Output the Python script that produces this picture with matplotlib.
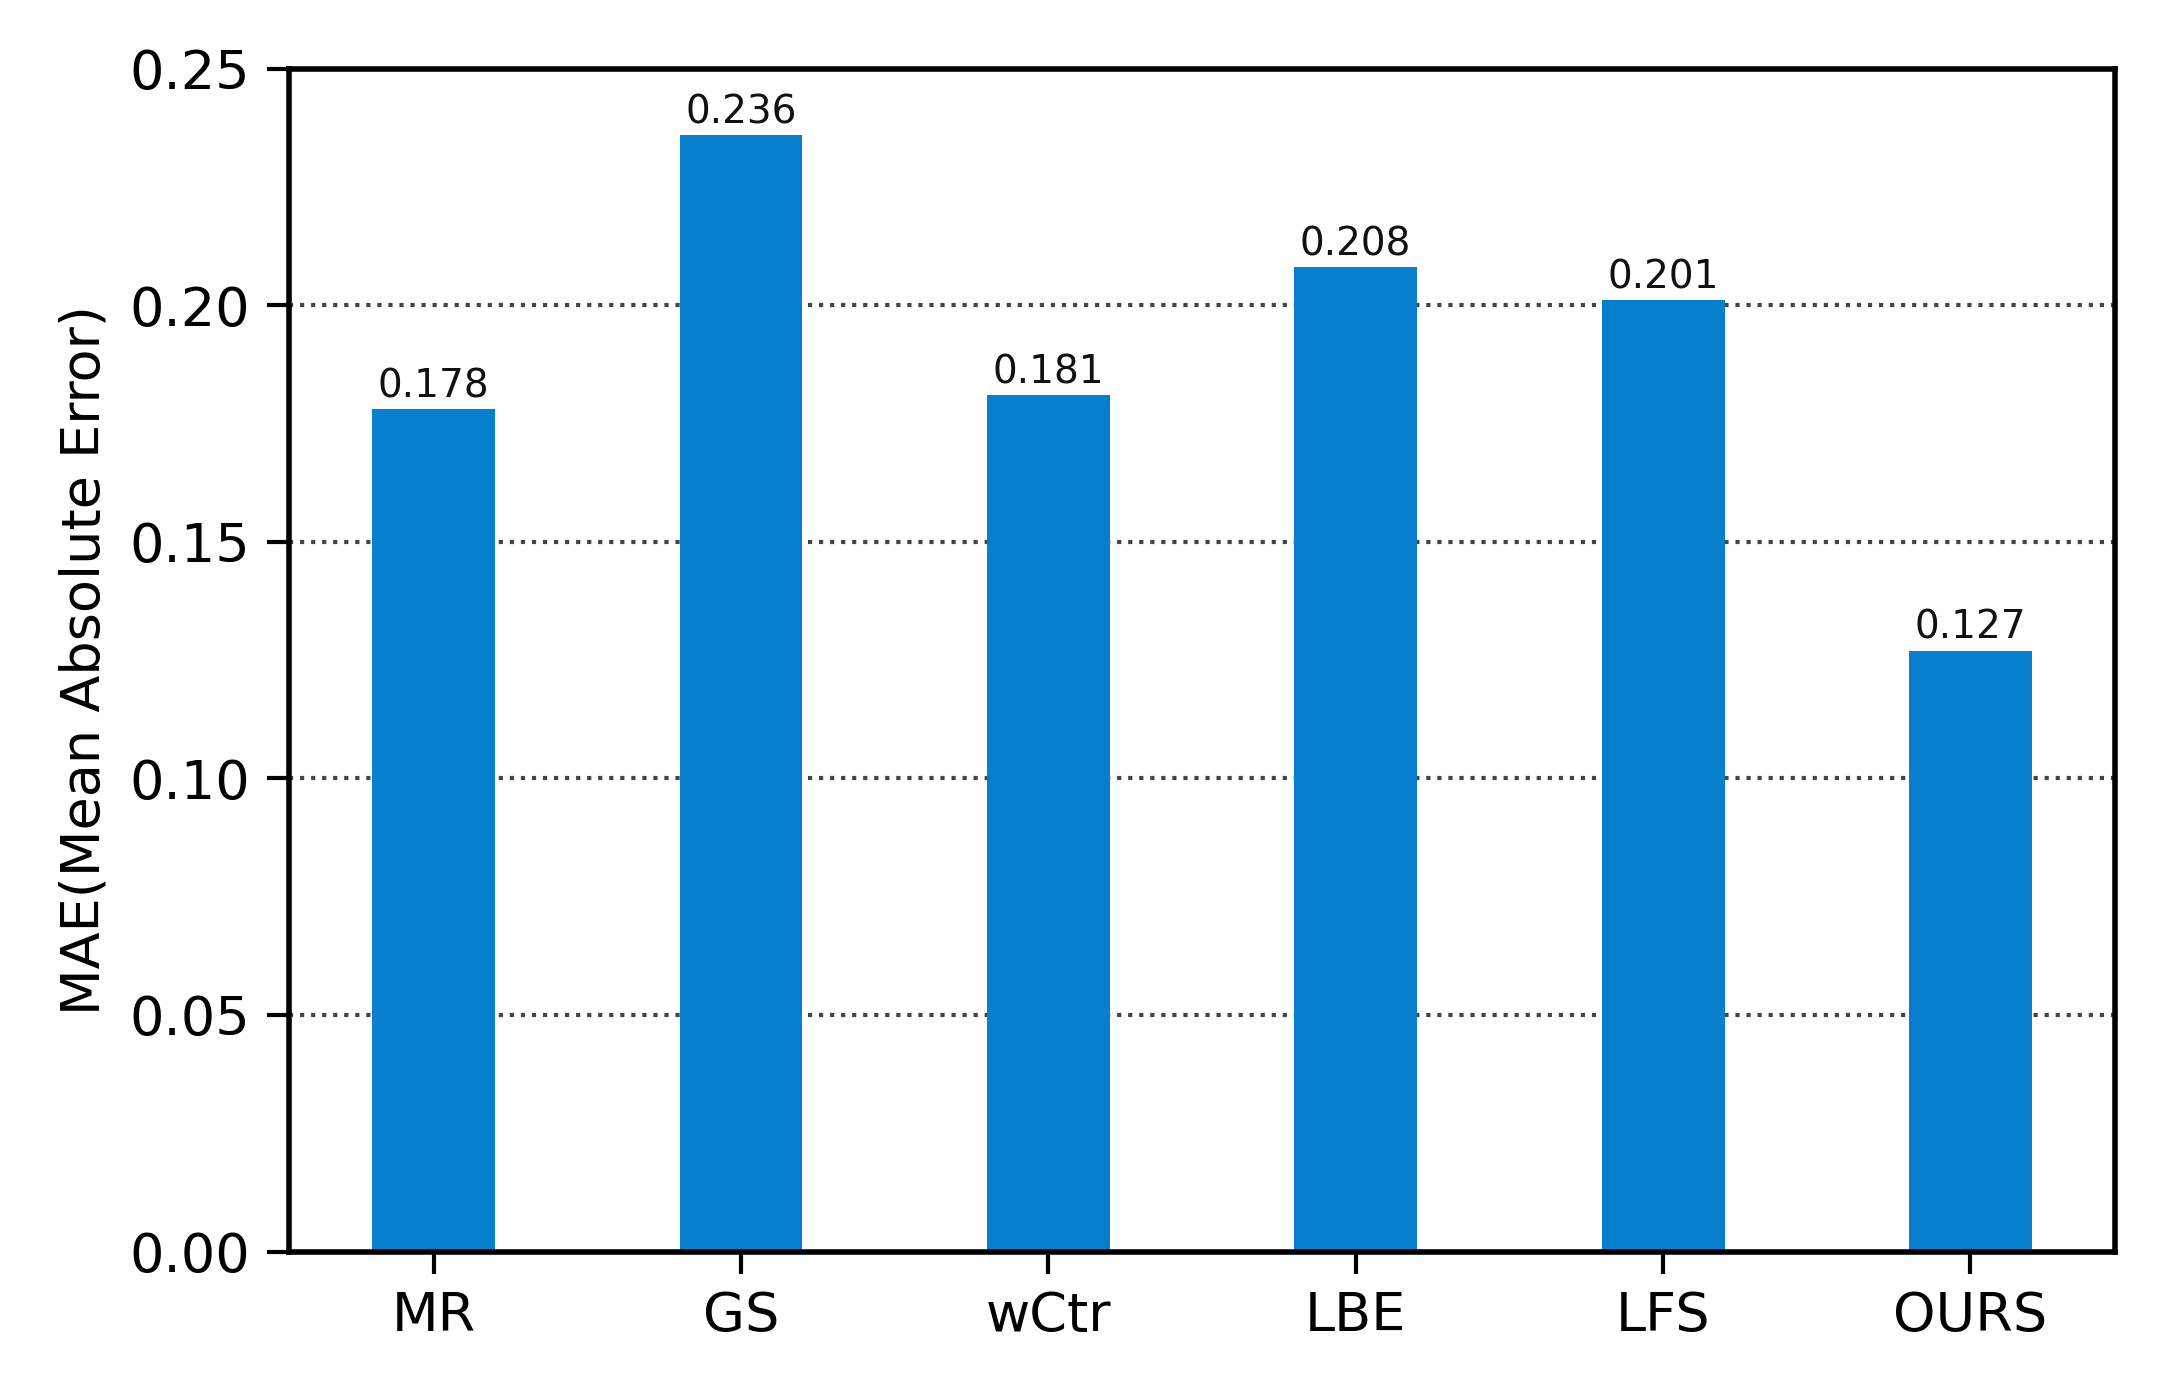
import matplotlib.pyplot as plt
import numpy as np

methods = ['MR', 'GS', 'wCtr', 'LBE', 'LFS', 'OURS']
mae = [0.178, 0.236, 0.181, 0.208, 0.201, 0.127]
yticks = [0.00, 0.05, 0.10, 0.15, 0.20, 0.25]

fig = plt.figure(figsize=(21.58, 14), dpi=100)
ax = fig.add_axes([0.134, 0.106, 0.846, 0.845])

x = np.arange(len(methods))
bars = ax.bar(x, mae, width=0.4, color='#087fce', zorder=2)

for b, v in zip(bars, mae):
    ax.text(b.get_x() + b.get_width() / 2, v + 0.0008, f'{v:.3f}',
            ha='center', va='bottom', fontsize=28, color='#111111')

ax.set_xticks(x)
ax.set_xticklabels(methods)
ax.set_yticks(yticks)
ax.set_yticklabels([f'{t:.2f}' for t in yticks])
ax.set_ylim(0, 0.25)
ax.set_ylabel('MAE(Mean Absolute Error)', fontsize=39, labelpad=14)

ax.grid(axis='y', linestyle=':', color='#444444', linewidth=3, zorder=1)
ax.set_axisbelow(True)
ax.tick_params(axis='both', labelsize=39, length=16, width=3, pad=12)
for s in ax.spines.values():
    s.set_linewidth(4)

plt.savefig('out.png', dpi=100)
